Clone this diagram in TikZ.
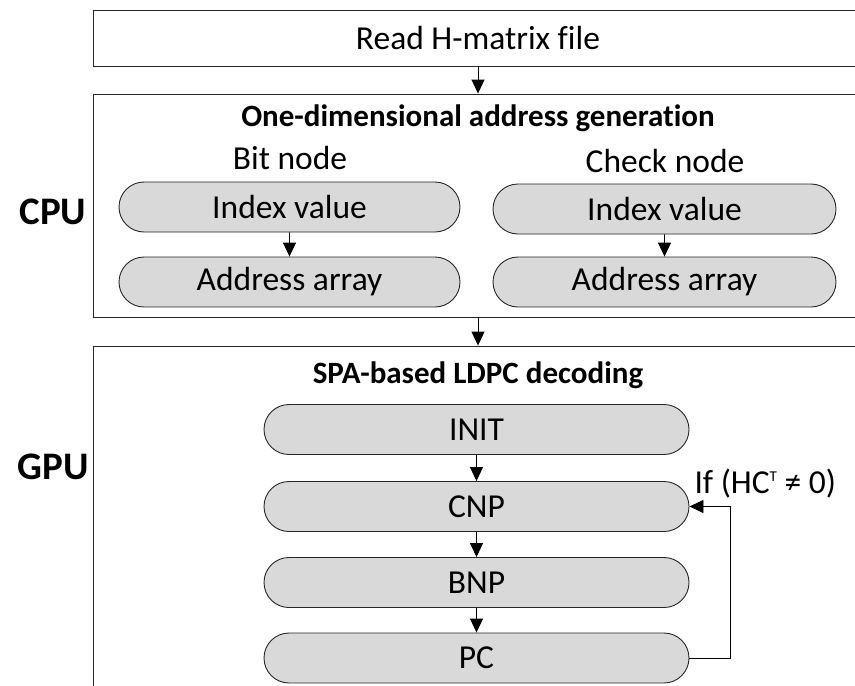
\documentclass[tikz,border=0pt]{standalone}
\usepackage{fontspec}
\setmainfont{Carlito}[Ligatures={NoCommon}]
\usetikzlibrary{arrows.meta,shapes.misc}
\begin{document}
\begin{tikzpicture}[x=1pt,y=-1pt,
  every node/.style={font=\fontsize{33.5}{38}\selectfont},
  frame/.style={draw=black!85,line width=0.9pt,rectangle,inner sep=0pt},
  rbox/.style={draw=black!85,line width=0.9pt,fill=black!15,rounded rectangle,inner sep=0pt,minimum height=50pt},
  arr/.style={draw=black,line width=0.9pt,-{Triangle[length=14pt,width=13pt]}},
  side/.style={font=\fontsize{39}{44}\selectfont\bfseries},
  title/.style={font=\fontsize{31}{36}\selectfont\bfseries}]
\useasboundingbox (0,0) rectangle (855,686);
\clip (0,0) rectangle (855,686);
% frames
\node[frame,minimum width=770pt,minimum height=56pt] (read) at (478,38) {Read H-matrix file};
\node[frame,minimum width=770pt,minimum height=223pt] (cpu) at (478,205.5) {};
\node[frame,minimum width=770pt,minimum height=354pt] (gpu) at (478,523) {};
\node[title] (cputitle) at (478,118) {One-dimensional address generation};
\node[title] (gputitle) at (478,375) {SPA-based LDPC decoding};
\node[side] (cpulbl) at (53,212) {CPU};
\node[side] (gpulbl) at (53,467) {GPU};
% CPU content
\node (bitlbl) at (290,158) {Bit node};
\node (chklbl) at (665,161) {Check node};
\node[rbox,minimum width=341pt] (bidx) at (289.5,207) {Index value};
\node[rbox,minimum width=341pt] (baddr) at (289.5,282) {Address array};
\node[rbox,minimum width=343pt] (cidx) at (664.5,209) {Index value};
\node[rbox,minimum width=343pt] (caddr) at (664.5,282) {Address array};
% GPU content
\node[rbox,minimum width=425pt] (init) at (476.5,429.5) {INIT};
\node[rbox,minimum width=425pt] (cnp) at (476.5,506.5) {CNP};
\node[rbox,minimum width=425pt] (bnp) at (476.5,582.5) {BNP};
\node[rbox,minimum width=425pt] (pc) at (476.5,658) {PC};
\node[anchor=west] (cond) at (691,484) {If (HC\raisebox{12pt}{\fontsize{15}{17}\selectfont T} ≠ 0)};
% connectors
\draw[arr] (read.south) -- (cpu.north);
\draw[arr] (cpu.south) -- (gpu.north);
\draw[arr] (bidx) -- (baddr);
\draw[arr] (cidx) -- (caddr);
\draw[arr] (init) -- (cnp);
\draw[arr] (cnp) -- (bnp);
\draw[arr] (bnp) -- (pc);
\coordinate (loop) at (730,658);
\draw[arr] (pc.east) -- (loop) |- (cnp.east);
\end{tikzpicture}
\end{document}
